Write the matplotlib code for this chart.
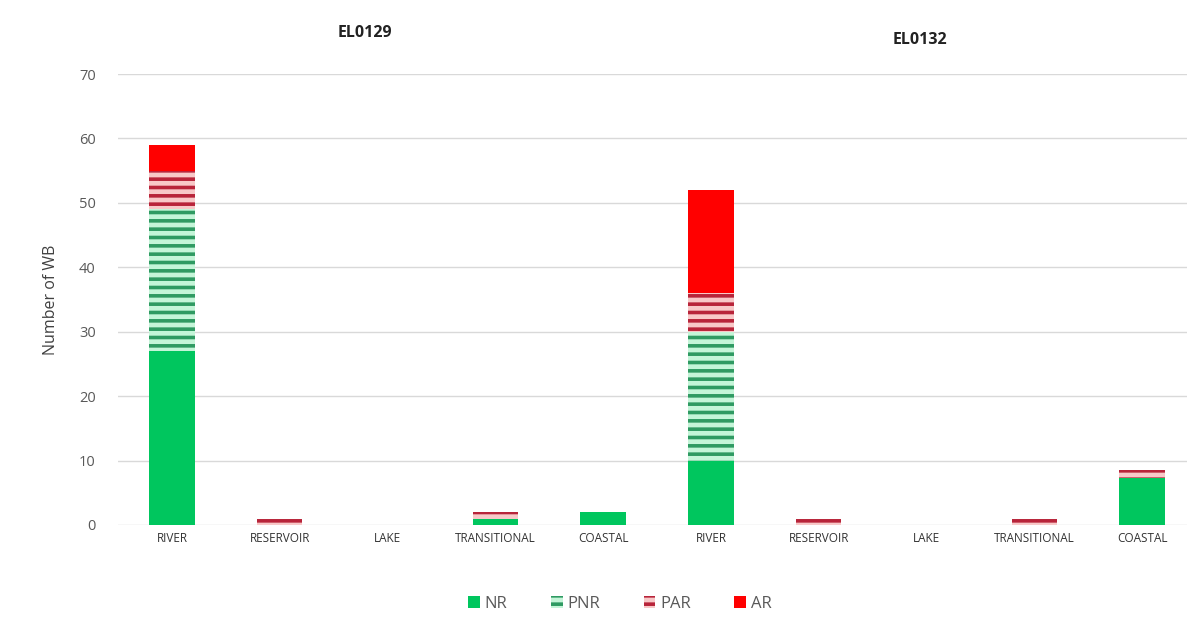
import numpy as np
import matplotlib.pyplot as plt
from matplotlib.patches import Patch

# values
categories = ['RIVER', 'RESERVOIR', 'LAKE', 'TRANSITIONAL', 'COASTAL',
              'RIVER', 'RESERVOIR', 'LAKE', 'TRANSITIONAL', 'COASTAL']
nr = [27, 0, 0, 1, 2, 10, 0, 0, 0, 7.3]
pnr = [22, 0, 0, 0, 0, 20, 0, 0, 0, 0]
par = [6, 1, 0, 1, 0, 6, 1, 0, 1, 1.2]
ar = [4, 0, 0, 0, 0, 16, 0, 0, 0, 0]
group_titles = ['EL0129', 'EL0132']
yticks = [0, 10, 20, 30, 40, 50, 60, 70]

plt.rcParams['font.family'] = ['Open Sans', 'DejaVu Sans']
plt.rcParams['hatch.linewidth'] = 2.6

fig = plt.figure(figsize=(11.87, 6.21), dpi=100)
ax = fig.add_axes([118 / 1187, 96 / 621, 1078 / 1187, 451 / 621])

x = np.arange(len(categories))
w = 0.42
bottom = np.zeros(len(categories))

ax.bar(x, nr, w, bottom=bottom, color='#00c65e', linewidth=0, zorder=3)
bottom += nr
ax.bar(x, pnr, w, bottom=bottom, color='#c4f5d8', edgecolor='#2f9a62',
       hatch='--', linewidth=0, zorder=3)
bottom += pnr
ax.bar(x, par, w, bottom=bottom, color='#f8c8c8', edgecolor='#b8243a',
       hatch='--', linewidth=0, zorder=3)
bottom += par
ax.bar(x, ar, w, bottom=bottom, color='#ff0000', linewidth=0, zorder=3)

ax.set_xlim(-0.5, len(categories) - 0.5)
ax.set_ylim(0, 70)
ax.set_yticks(yticks)
ax.set_xticks(x)
ax.set_xticklabels(categories, fontsize=8.5, color='#333333')
ax.tick_params(axis='x', length=0, pad=5)
ax.tick_params(axis='y', length=0, pad=16, labelsize=10.5, labelcolor='#595959')
ax.yaxis.grid(True, color='#d9d9d9', linewidth=1, zorder=0)
for s in ax.spines.values():
    s.set_visible(False)

ax.set_ylabel('Number of WB', fontsize=11.5, color='#404040', labelpad=14)

fig.text(365 / 1187, 1 - 33 / 621, group_titles[0], ha='center', va='center',
         fontsize=11.5, fontweight='bold', color='#222222')
fig.text(920 / 1187, 1 - 40 / 621, group_titles[1], ha='center', va='center',
         fontsize=11.5, fontweight='bold', color='#222222')

handles = [
    Patch(facecolor='#00c65e', linewidth=0, label='NR'),
    Patch(facecolor='#c4f5d8', edgecolor='#2f9a62', hatch='--', linewidth=0, label='PNR'),
    Patch(facecolor='#f8c8c8', edgecolor='#b8243a', hatch='--', linewidth=0, label='PAR'),
    Patch(facecolor='#ff0000', linewidth=0, label='AR'),
]
leg = fig.legend(handles=handles, loc='center', bbox_to_anchor=(620 / 1187, 1 - 604 / 621),
                 ncol=4, frameon=False, fontsize=12, handlelength=0.7, handleheight=0.7,
                 handletextpad=0.3, columnspacing=2.6)
for t in leg.get_texts():
    t.set_color('#595959')

fig.savefig('out.png', dpi=100)
